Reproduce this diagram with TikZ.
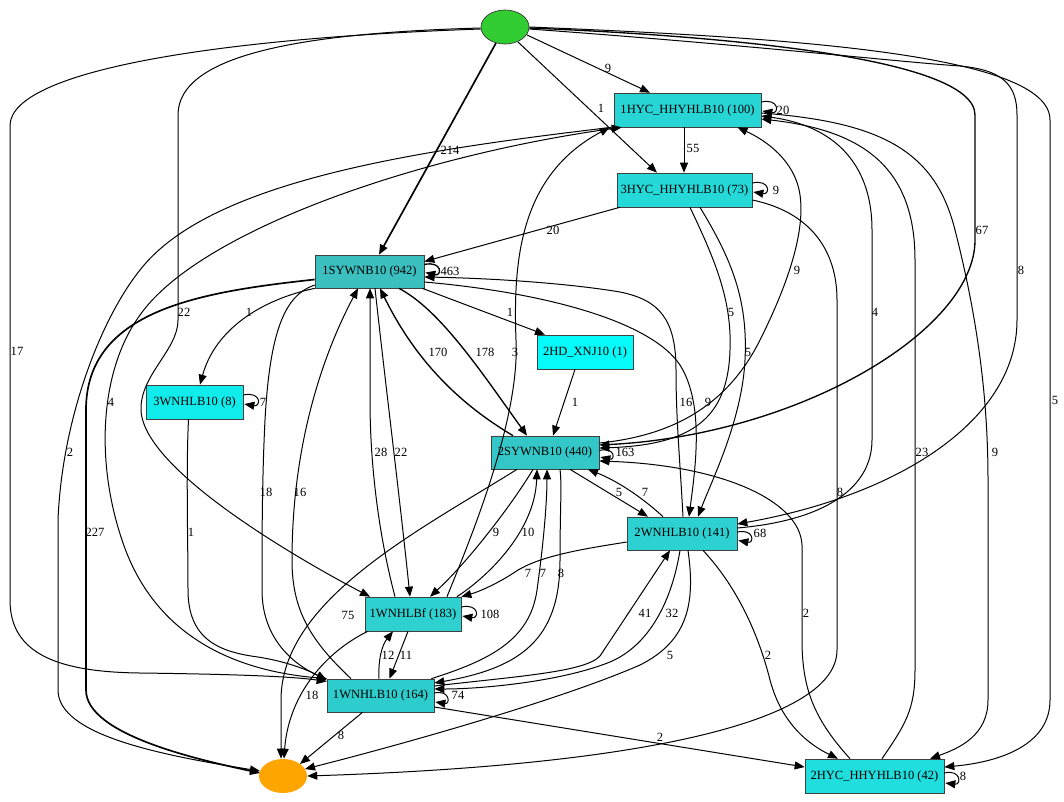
\documentclass[tikz,border=0pt]{standalone}
\usepackage{fontspec}
\setmainfont{Liberation Serif}
\usetikzlibrary{arrows.meta,calc,shapes.geometric}
\definecolor{cstart}{HTML}{32CD32}
\definecolor{cend}{HTML}{FFA500}
\definecolor{ch1}{HTML}{27D5D5}
\definecolor{ch3}{HTML}{25D9D9}
\definecolor{ch2}{HTML}{20DEDE}
\definecolor{cs1}{HTML}{3CBFBF}
\definecolor{cs2}{HTML}{34C7C7}
\definecolor{cw2}{HTML}{2DD1D1}
\definecolor{cwf}{HTML}{2ED0D0}
\definecolor{cw1}{HTML}{2ECDCD}
\definecolor{cw3}{HTML}{10ECEC}
\definecolor{chd}{HTML}{05FAFA}
\tikzset{
  every node/.style={font=\fontsize{9.4}{11}\selectfont},
  box/.style={draw=black!75, line width=0.5pt, rectangle, inner sep=0pt, minimum height=25.5pt},
  conn/.style={draw=black, line width=0.75pt, -{Triangle[length=7.5pt,width=6pt]}},
  mid/.style={line width=1.0pt},
  heavy/.style={line width=1.25pt},
  lbl/.style={inner sep=0pt},
}
\begin{document}
\begin{tikzpicture}[x=0.75pt,y=-0.75pt]
\fill[white] (0,0) rectangle (1064,801);
\useasboundingbox (0,0) rectangle (1064,801);
% nodes
\node[ellipse, draw=black!80, line width=0.5pt, fill=cstart, minimum width=36pt, minimum height=25.5pt, inner sep=0pt] (s) at (505,27) {};
\node[ellipse, fill=cend, minimum width=36pt, minimum height=25.5pt, inner sep=0pt] (e) at (283,776) {};
\node[box, fill=ch1, minimum width=110.25pt] (h1) at (687.5,110) {1HYC\_HHYHLB10 (100)};
\node[box, fill=ch3, minimum width=101.25pt] (h3) at (684.5,190) {3HYC\_HHYHLB10 (73)};
\node[box, fill=cs1, minimum width=81.75pt, minimum height=24.75pt] (s1) at (369.5,271.5) {1SYWNB10 (942)};
\node[box, fill=chd, minimum width=72pt] (hd) at (585,352) {2HD\_XNJ10 (1)};
\node[box, fill=cw3, minimum width=72.75pt] (w3) at (194.5,402) {3WNHLB10 (8)};
\node[box, fill=cs2, minimum width=81pt, minimum height=24.75pt] (s2) at (545,452.5) {2SYWNB10 (440)};
\node[box, fill=cw2, minimum width=82.5pt, minimum height=24.75pt] (w2) at (682,533.5) {2WNHLB10 (141)};
\node[box, fill=cwf, minimum width=72pt] (wf) at (413,614) {1WNHLBf (183)};
\node[box, fill=cw1, minimum width=80.25pt, minimum height=24.75pt] (w1) at (380.5,695.5) {1WNHLB10 (164)};
\node[box, fill=ch2, minimum width=104.25pt] (h2) at (874.5,776) {2HYC\_HHYHLB10 (42)};

% edges from start
\draw[conn] ($(s)+(22,8)$) -- ($(h1.north)+(-37.5,0)$);
\draw[conn] ($(s)+(13,15)$) -- ($(h3.north)+(-27.5,0)$);
\draw[conn,heavy] ($(s)+(-9,16)$) -- ($(s1.north)+(9.5,0)$);
\draw[conn] ($(s.west)+(0,1)$) .. controls (300,33) and (178,55) .. (178,115) -- (178,320) .. controls (178,350) and (140,375) .. (141,410) .. controls (143,470) and (300,560) .. ($(wf.north)+(-43,0)$);
\draw[conn] ($(s.west)+(0,2)$) .. controls (220,38) and (12,70) .. (10,125) -- (10,600) .. controls (10,655) and (60,672) .. (140,673) .. controls (220,674) and (290,676) .. ($(w1.west)+(0,-14)$);
\draw[conn,mid] ($(s.east)+(0,1)$) .. controls (700,35) and (975,55) .. (975,115) -- (975,240) .. controls (975,330) and (800,435) .. ($(s2.east)+(0,-7.5)$);
\draw[conn] ($(s.east)+(0,2)$) .. controls (750,45) and (900,62) .. (960,66) .. controls (1003,70) and (1017,85) .. (1017,115) -- (1017,320) .. controls (1017,420) and (900,495) .. ($(w2.east)+(0,-9.5)$);
\draw[conn] (s.east) .. controls (800,38) and (1050,55) .. (1050,120) -- (1050,700) .. controls (1050,745) and (1000,762) .. ($(h2.east)+(0,-9)$);

% from 1HYC
\draw[conn] ($(h1.east)+(0,-8)$) .. controls ($(h1.east)+(18,-12)$) and ($(h1.east)+(18,4)$) .. ($(h1.east)+(1,1)$);
\draw[conn] ($(h1.south)+(-3.5,0)$) -- ($(h3.north)+(-0.5,0)$);
\draw[conn] ($(h1.south west)+(-2,0)$) .. controls (420,150) and (210,180) .. (140,270) .. controls (100,320) and (62,420) .. (58,520) -- (58,690) .. controls (58,735) and (160,755) .. ($(e)+(-23,-5)$);
\draw[conn] ($(h1.east)+(0,3)$) .. controls (880,122) and (935,150) .. (955,230) .. controls (978,320) and (988,400) .. (988,480) -- (988,700) .. controls (988,735) and (960,748) .. ($(h2.north)+(55.5,0)$);

% into 1HYC
\draw[conn] ($(w2.east)+(0,-5.5)$) .. controls (830,520) and (872,485) .. (872,440) -- (872,230) .. controls (872,160) and (830,125) .. ($(h1.east)+(0,6)$);
\draw[conn] ($(h2.north)+(7.5,0)$) .. controls (905,725) and (915,710) .. (915,670) -- (915,260) .. controls (915,165) and (860,130) .. ($(h1.east)+(0,9)$);
\draw[conn] ($(s2.east)+(0,-9.5)$) .. controls (680,435) and (730,400) .. (760,340) .. controls (790,280) and (805,230) .. (800,195) .. controls (795,160) and (765,140) .. ($(h1.south)+(50,0)$);
\draw[conn] ($(wf.north)+(34,0)$) .. controls (470,540) and (520,420) .. (516,340) .. controls (513,260) and (520,175) .. ($(h1.south west)+(-4,0)$);
\draw[conn] ($(w1.west)+(0,-17)$) .. controls (220,672) and (150,625) .. (122,540) .. controls (95,460) and (100,370) .. (140,315) .. controls (200,230) and (420,155) .. ($(h1.south west)+(8,0)$);

% from 3HYC
\draw[conn] ($(h3.east)+(0,-7)$) .. controls ($(h3.east)+(18,-11)$) and ($(h3.east)+(18,5)$) .. ($(h3.east)+(1,2)$);
\draw[conn] ($(h3.south west)+(3,0)$) -- ($(s1.east)+(0,-10)$);
\draw[conn] ($(h3.south)+(5.5,0)$) .. controls (715,260) and (732,300) .. (730,350) .. controls (728,420) and (690,445) .. ($(s2.east)+(0,-4.5)$);
\draw[conn] ($(h3.south)+(15.5,0)$) .. controls (732,260) and (748,300) .. (745,360) .. controls (742,420) and (712,480) .. ($(w2.north)+(16,0)$);
\draw[conn] ($(h3.east)+(0,10)$) .. controls (810,212) and (837,250) .. (837,300) -- (837,650) .. controls (837,720) and (650,765) .. (e.east);

% from 1SYWNB10
\draw[conn,mid] ($(s1.east)+(0,-7)$) .. controls ($(s1.east)+(18,-11)$) and ($(s1.east)+(18,5)$) .. ($(s1.east)+(1,1)$);
\draw[conn,heavy] ($(s1.west)+(0,8)$) .. controls (200,292) and (86,310) .. (86,410) -- (86,690) .. controls (86,735) and (200,760) .. ($(e)+(-23,-3)$);
\draw[conn] (s1.south west) .. controls (260,300) and (215,330) .. ($(w3.north)+(5.5,0)$);
\draw[conn] ($(s1.south east)+(-2,0)$) -- ($(hd.north)+(-40,0)$);
\draw[conn,mid] ($(s1.south)+(29.5,0)$) .. controls (440,310) and (480,370) .. ($(s2.north)+(-18,0)$);
\draw[conn,mid] ($(s2.north)+(-32,0)$) .. controls (470,410) and (420,370) .. ($(s1.south)+(10.5,0)$);
\draw[conn] ($(s1.south)+(5.5,0)$) .. controls (385,380) and (400,500) .. ($(wf.north)+(-3,0)$);
\draw[conn] ($(wf.north)+(-18,0)$) .. controls (380,540) and (370,470) .. (370,400) -- ($(s1.south)+(0.5,0)$);
\draw[conn] ($(s1.west)+(0,13.5)$) .. controls (285,295) and (270,330) .. (265,420) .. controls (262,480) and (262,540) .. (262,590) .. controls (262,640) and (295,665) .. ($(w1.west)+(0,-16)$);
\draw[conn] ($(w1.north)+(-29.5,0)$) .. controls (310,640) and (292,610) .. (292,560) .. controls (292,450) and (320,360) .. ($(s1.south)+(-11.5,0)$);
\draw[conn] ($(w2.north)+(1,0)$) .. controls (680,460) and (676,420) .. (676,370) .. controls (676,320) and (660,300) .. (620,292) .. controls (560,282) and (480,278) .. ($(s1.east)+(0,5.5)$);
\draw[conn] ($(s1.east)+(0,10.5)$) .. controls (540,292) and (650,320) .. (680,365) .. controls (705,405) and (695,470) .. ($(w2.north)+(7,0)$);

% 2HD, 3WNHLB10
\draw[conn] ($(hd.south)+(-10,0)$) -- ($(s2.north)+(8,0)$);
\draw[conn] ($(w3.east)+(0,-7)$) .. controls ($(w3.east)+(18,-11)$) and ($(w3.east)+(18,5)$) .. ($(w3.east)+(1,2)$);
\draw[conn] ($(w3.south)+(-6,0)$) .. controls (186,470) and (188,540) .. (188,590) .. controls (188,640) and (220,652) .. (258,657) .. controls (290,662) and (312,672) .. ($(w1.west)+(0,-15)$);

% from 2SYWNB10
\draw[conn] ($(s2.east)+(0,-2)$) .. controls ($(s2.east)+(16,-6)$) and ($(s2.east)+(16,8)$) .. ($(s2.east)+(1,4.5)$);
\draw[conn] ($(s2.south)+(25,0)$) -- ($(w2.north)+(-34,0)$);
\draw[conn] ($(w2.north)+(-19,0)$) .. controls (645,500) and (620,482) .. ($(s2.south)+(43,0)$);
\draw[conn] ($(s2.south)+(-28,0)$) .. controls (420,530) and (281,600) .. (281,700) -- ($(e.north)+(-2,0)$);
\draw[conn] ($(s2.south)+(-12,0)$) .. controls (515,500) and (470,560) .. ($(wf.north)+(17,0)$);
\draw[conn] ($(wf.north)+(44,0)$) .. controls (490,575) and (535,530) .. ($(s2.south)+(-8,0)$);
\draw[conn] ($(w1.north east)+(-3,0)$) .. controls (490,660) and (530,640) .. (537,590) .. controls (544,540) and (547,500) .. ($(s2.south)+(2,0)$);
\draw[conn] ($(s2.south)+(15,0)$) .. controls (562,485) and (560,510) .. (560,560) .. controls (560,640) and (520,668) .. ($(w1.east)+(0,-12.5)$);

% from 2WNHLB10
\draw[conn] ($(w2.east)+(0,-1.5)$) .. controls ($(w2.east)+(17,-5)$) and ($(w2.east)+(17,10)$) .. ($(w2.east)+(1,7)$);
\draw[conn] ($(w2.west)+(0,8.5)$) .. controls (590,548) and (540,555) .. (515,572) .. controls (497,584) and (478,592) .. (wf.north east);
\draw[conn] ($(w2.south)+(-2,0)$) .. controls (672,600) and (650,645) .. (610,662) .. controls (560,682) and (480,689) .. ($(w1.east)+(0,-6.5)$);
\draw[conn] ($(w1.east)+(0,-9.5)$) .. controls (520,676) and (585,672) .. (600,656) -- ($(w2.south)+(-12,0)$);
\draw[conn] ($(w2.south)+(6,0)$) .. controls (695,600) and (690,640) .. (640,665) .. controls (560,700) and (400,745) .. ($(e)+(22,-7)$);
\draw[conn] ($(w2.south)+(21,0)$) .. controls (740,590) and (760,640) .. (770,680) .. controls (782,725) and (810,745) .. ($(h2.north)+(-36.5,0)$);
\draw[conn] ($(h2.north)+(-24.5,0)$) .. controls (815,720) and (802,690) .. (802,640) -- (802,545) .. controls (800,500) and (720,465) .. ($(s2.east)+(0,8.5)$);

% 1WNHLBf, 1WNHLB10, 2HYC
\draw[conn] ($(wf.east)+(0,-7)$) .. controls ($(wf.east)+(18,-11)$) and ($(wf.east)+(18,5)$) .. ($(wf.east)+(1,2)$);
\draw[conn] ($(w1.north)+(-1.5,0)$) .. controls (378,660) and (382,645) .. ($(wf.south)+(-20,0)$);
\draw[conn] ($(wf.south)+(-5,0)$) -- ($(w1.north)+(9,0)$);
\draw[conn] ($(wf.south west)+(3,0)$) .. controls (320,655) and (288,700) .. ($(e.north)+(1,0)$);
\draw[conn] ($(w1.east)+(0,-2.5)$) .. controls ($(w1.east)+(16,-6)$) and ($(w1.east)+(16,9)$) .. ($(w1.east)+(1,6.5)$);
\draw[conn] ($(w1.south)+(-18,0)$) -- ($(e)+(17,-12)$);
\draw[conn] ($(w1.east)+(0,11.5)$) -- ($(h2.west)+(0,-9)$);
\draw[conn] ($(h2.east)+(0,-3)$) .. controls ($(h2.east)+(17,-7)$) and ($(h2.east)+(17,9)$) .. ($(h2.east)+(1,7)$);

% labels
\node[lbl] (l1) at (608,68) {9};
\node[lbl] (l2) at (601,108) {1};
\node[lbl] (l3) at (450,150) {214};
\node[lbl] (l4) at (184,312) {22};
\node[lbl] (l5) at (17,351) {17};
\node[lbl] (l6) at (982,230) {67};
\node[lbl] (l7) at (1021,270) {8};
\node[lbl] (l8) at (1055,400) {5};
\node[lbl] (l9) at (783,110) {20};
\node[lbl] (l10) at (693,148) {55};
\node[lbl] (l11) at (70,452) {2};
\node[lbl] (l12) at (995,452) {9};
\node[lbl] (l13) at (875,312) {4};
\node[lbl] (l14) at (922,452) {23};
\node[lbl] (l15) at (776,190) {9};
\node[lbl] (l16) at (553,230) {20};
\node[lbl] (l17) at (731,312) {5};
\node[lbl] (l18) at (748,352) {5};
\node[lbl] (l19) at (840,492) {8};
\node[lbl] (l20) at (450,271) {463};
\node[lbl] (l21) at (95,532) {227};
\node[lbl] (l22) at (249,312) {1};
\node[lbl] (l23) at (510,312) {1};
\node[lbl] (l24) at (485,352) {178};
\node[lbl] (l25) at (438,352) {170};
\node[lbl] (l26) at (381,452) {28};
\node[lbl] (l27) at (401,452) {22};
\node[lbl] (l28) at (266,492) {18};
\node[lbl] (l29) at (300,492) {16};
\node[lbl] (l30) at (686,402) {16};
\node[lbl] (l31) at (708,402) {9};
\node[lbl] (l32) at (797,270) {9};
\node[lbl] (l33) at (111,402) {4};
\node[lbl] (l34) at (515,352) {3};
\node[lbl] (l35) at (575,402) {1};
\node[lbl] (l36) at (263,402) {7};
\node[lbl] (l37) at (191,532) {1};
\node[lbl] (l38) at (625,452) {163};
\node[lbl] (l39) at (619,492) {5};
\node[lbl] (l40) at (645,492) {7};
\node[lbl] (l41) at (348,615) {75};
\node[lbl] (l42) at (496,532) {9};
\node[lbl] (l43) at (528,532) {10};
\node[lbl] (l44) at (543,573) {7};
\node[lbl] (l45) at (561,573) {8};
\node[lbl] (l46) at (528,573) {7};
\node[lbl] (l47) at (760,533) {68};
\node[lbl] (l48) at (672,613) {32};
\node[lbl] (l49) at (645,613) {41};
\node[lbl] (l50) at (670,655) {5};
\node[lbl] (l51) at (768,655) {2};
\node[lbl] (l52) at (806,613) {2};
\node[lbl] (l53) at (490,614) {108};
\node[lbl] (l54) at (406,655) {11};
\node[lbl] (l55) at (388,655) {12};
\node[lbl] (l56) at (312,695) {18};
\node[lbl] (l57) at (458,695) {74};
\node[lbl] (l58) at (341,735) {8};
\node[lbl] (l59) at (660,737) {2};
\node[lbl] (l60) at (963,776) {8};
\end{tikzpicture}
\end{document}
